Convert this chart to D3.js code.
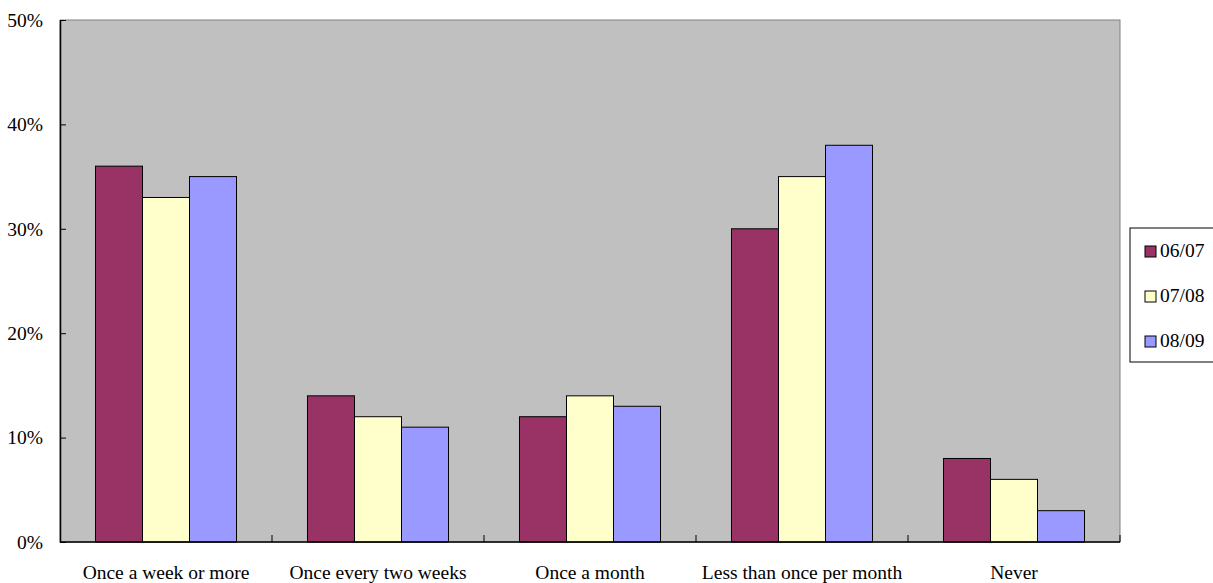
<!DOCTYPE html>
<html>
<head>
<meta charset="utf-8">
<script src="https://cdn.jsdelivr.net/npm/d3@7"></script>
<style>
  body { margin: 0; background: #fff; }
</style>
</head>
<body>
<svg id="chart" width="1213" height="583"></svg>
<script>
const categories = ["Once a week or more", "Once every two weeks", "Once a month", "Less than once per month", "Never"]
const seriesNames = ["06/07", "07/08", "08/09"]
const values0607 = [36, 14, 12, 30, 8]
const values0708 = [33, 12, 14, 35, 6]
const values0809 = [35, 11, 13, 38, 3]
const yTicks = [0, 10, 20, 30, 40, 50]
const colors = ["#993366", "#FFFFCC", "#9999FF"]

var FONT = "'Liberation Serif', 'Times New Roman', Times, serif";

var svg = d3.select("#chart");

var margin = {top: 20, right: 93, bottom: 41, left: 60},
    width = 1213 - margin.left - margin.right,
    height = 583 - margin.top - margin.bottom;

var allSeries = [values0607, values0708, values0809];

var data = categories.map(function(c, i) {
  return {
    cat: c,
    vals: seriesNames.map(function(s, j) { return {name: s, value: allSeries[j][i], color: colors[j]}; })
  };
});

var x0 = d3.scaleBand()
  .domain(categories)
  .range([0, width])
  .padding(0);

var x1 = d3.scaleBand()
  .domain(seriesNames)
  .range([0, x0.bandwidth()])
  .paddingInner(0)
  .paddingOuter(0.755);

var y = d3.scaleLinear()
  .domain([0, 50])
  .range([height, 0]);

var g = svg.append("g")
  .attr("transform", "translate(" + margin.left + "," + margin.top + ")");

// plot background
g.append("rect")
  .attr("width", width)
  .attr("height", height)
  .attr("fill", "#C0C0C0")
  .attr("stroke", "#808080")
  .attr("stroke-width", 1);

// bars
g.selectAll(".grp")
  .data(data)
  .join("g")
  .attr("class", "grp")
  .attr("transform", function(d) { return "translate(" + x0(d.cat) + ",0)"; })
  .selectAll("rect")
  .data(function(d) { return d.vals; })
  .join("rect")
  .attr("x", function(d) { return x1(d.name); })
  .attr("y", function(d) { return y(d.value); })
  .attr("width", x1.bandwidth())
  .attr("height", function(d) { return y(0) - y(d.value); })
  .attr("fill", function(d) { return d.color; })
  .attr("stroke", "#000")
  .attr("stroke-width", 1);

// y axis
var yAxis = g.append("g")
  .call(d3.axisLeft(y).tickValues(yTicks).tickFormat(function(d) { return d + "%"; })
    .tickSizeInner(-6).tickSizeOuter(0).tickPadding(17));
yAxis.attr("font-family", null).attr("font-size", null);
yAxis.select(".domain").attr("stroke", "#000").attr("stroke-width", 1.5);
yAxis.selectAll(".tick line").attr("stroke", "#000");
yAxis.selectAll("text")
  .style("font-family", FONT)
  .style("font-size", "19.5px")
  .attr("fill", "#000");

// x axis with ticks at band boundaries
var xAxis = g.append("g")
  .attr("transform", "translate(0," + height + ")");
xAxis.append("line")
  .attr("x1", 0).attr("x2", width)
  .attr("stroke", "#000").attr("stroke-width", 1.5);
xAxis.selectAll(".bt")
  .data(categories)
  .join("line")
  .attr("class", "bt")
  .attr("x1", function(d) { return x0(d) + x0.bandwidth(); })
  .attr("x2", function(d) { return x0(d) + x0.bandwidth(); })
  .attr("y1", 0).attr("y2", -7)
  .attr("stroke", "#000");
xAxis.selectAll(".cl")
  .data(categories)
  .join("text")
  .attr("class", "cl")
  .attr("x", function(d) { return x0(d) + x0.bandwidth() / 2; })
  .attr("y", 37)
  .attr("text-anchor", "middle")
  .style("font-family", FONT)
  .style("font-size", "19.5px")
  .text(function(d) { return d; });

// legend
var legend = svg.append("g")
  .attr("transform", "translate(1130,228)");
legend.append("rect")
  .attr("width", 90).attr("height", 134)
  .attr("fill", "#fff").attr("stroke", "#000");
var items = legend.selectAll(".li")
  .data(seriesNames)
  .join("g")
  .attr("class", "li")
  .attr("transform", function(d, i) { return "translate(15," + (18 + i * 45) + ")"; });
items.append("rect")
  .attr("width", 11).attr("height", 11)
  .attr("fill", function(d, i) { return colors[i]; })
  .attr("stroke", "#000");
items.append("text")
  .attr("x", 15).attr("y", 11)
  .style("font-family", FONT)
  .style("font-size", "19.5px")
  .text(function(d) { return d; });
</script>
</body>
</html>
